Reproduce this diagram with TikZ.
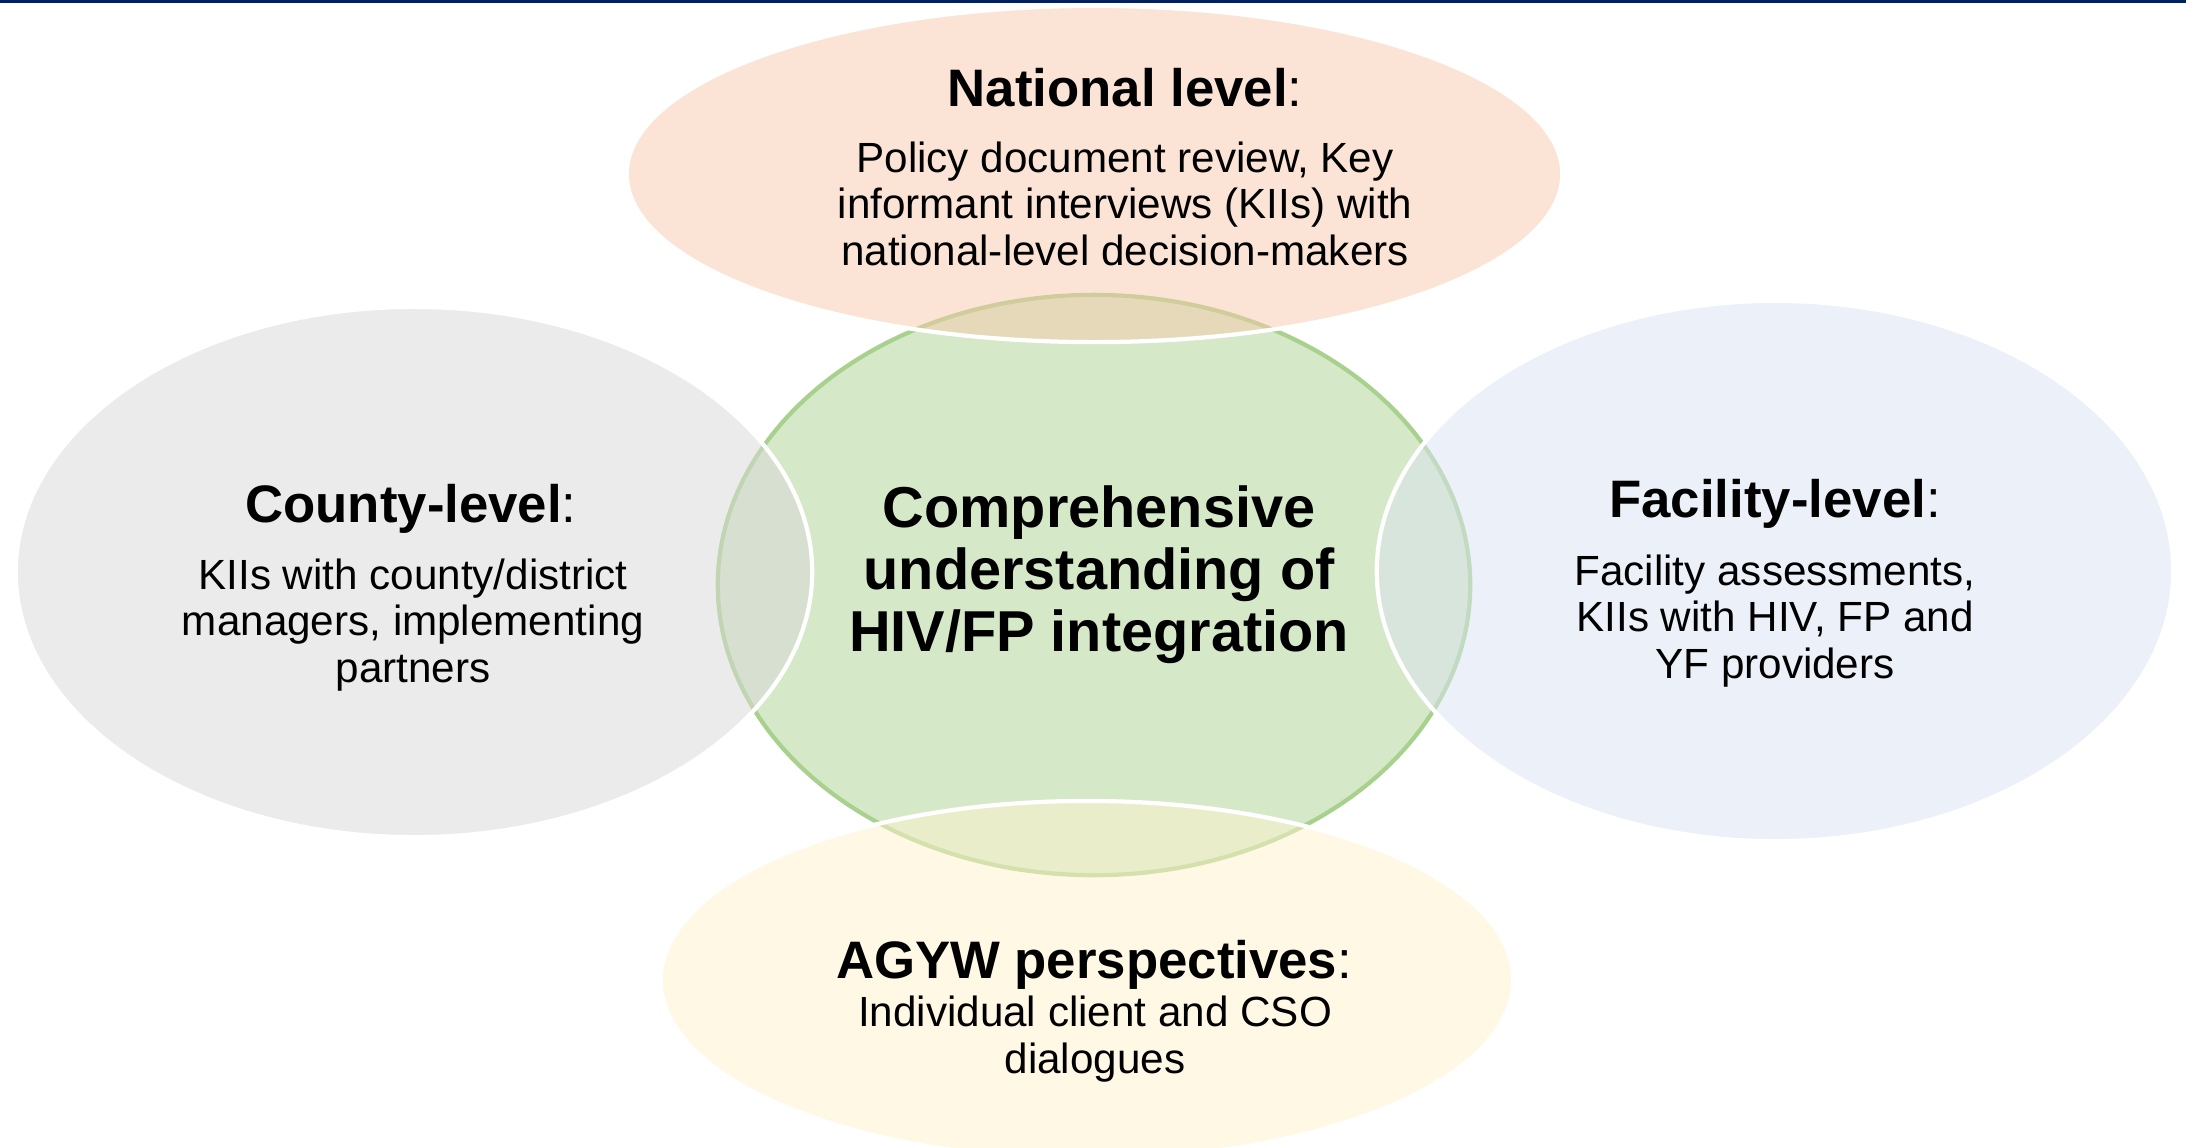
\documentclass[tikz,border=0pt]{standalone}
\usepackage{fontspec}
\setmainfont{Liberation Sans}
\usetikzlibrary{shapes.geometric}
\definecolor{navy}{RGB}{0,32,96}
\definecolor{peach}{RGB}{248,203,173}
\definecolor{greyfill}{RGB}{217,217,217}
\definecolor{bluefill}{RGB}{218,227,243}
\definecolor{yellowfill}{RGB}{255,242,204}
\definecolor{greenfill}{RGB}{213,232,200}
\definecolor{greenline}{RGB}{169,209,142}
\tikzset{
  blob/.style={ellipse, inner sep=0pt, outer sep=0pt, draw=white, line width=1.2pt, fill opacity=0.5},
  ttl/.style={anchor=base, inner sep=0pt, font=\fontsize{15}{18}\selectfont},
  bodytxt/.style={anchor=base, inner sep=0pt, align=center, font=\fontsize{12}{13.1}\selectfont},
  ctrtxt/.style={anchor=base, inner sep=0pt, align=center, font=\fontsize{16.4}{17.6}\selectfont\bfseries}
}
\begin{document}
\begin{tikzpicture}[x=0.01cm, y=-0.01cm]
\useasboundingbox (0,0) rectangle (2186,1147);
\fill[white] (0,0) rectangle (2186,1147);
\fill[navy] (0,0) rectangle (2186,3);
% centre
\node[ellipse, inner sep=0pt, outer sep=0pt, fill=greenfill, draw=greenline, line width=1.2pt,
      minimum width=7.52cm, minimum height=5.8cm] (core) at (1094,585) {};
% outer ellipses
\node[blob, fill=peach, minimum width=9.35cm, minimum height=3.36cm] (nat) at (1094.5,174) {};
\node[blob, fill=greyfill, minimum width=7.96cm, minimum height=5.3cm] (cty) at (414,572) {};
\node[blob, fill=bluefill, minimum width=7.96cm, minimum height=5.4cm] (fac) at (1775,571) {};
\node[blob, fill=yellowfill, minimum width=8.52cm, minimum height=3.58cm] (agyw) at (1087,980) {};
% texts (multi-line nodes: base = baseline of last line)
\node[ttl] (natT) at (1125,106) {\textbf{National level}:};
\node[bodytxt] (natB) at (1125,265) {Policy document review, Key\\informant interviews (KIIs) with\\national-level decision-makers};
\node[ttl] (ctyT) at (411,522) {\textbf{County-level}:};
\node[bodytxt] (ctyB) at (413,682) {KIIs with county/district\\managers, implementing\\partners};
\node[ttl] (facT) at (1775,517) {\textbf{Facility-level}:};
\node[bodytxt] (facB) at (1775,678) {Facility assessments,\\KIIs with HIV, FP and\\YF providers};
\node[ctrtxt] (coreT) at (1099,651) {Comprehensive\\understanding of\\HIV/FP integration};
\node[ttl] (agywT) at (1094,978) {\textbf{AGYW perspectives}:};
\node[bodytxt] (agywB) at (1095,1073) {Individual client and CSO\\dialogues};
\end{tikzpicture}
\end{document}
